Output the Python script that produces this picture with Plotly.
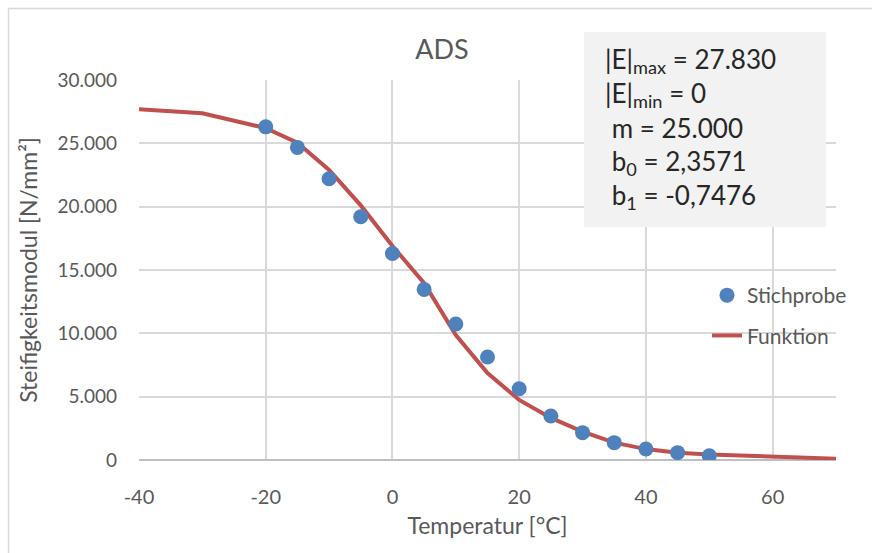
import plotly.graph_objects as go

# Stichprobe (measured stiffness modulus)
temp_sample = [-20, -15, -10, -5, 0, 5, 10, 15, 20, 25, 30, 35, 40, 45, 50]
e_sample = [26300, 24680, 22200, 19200, 16300, 13470, 10740, 8130, 5630,
            3470, 2160, 1370, 870, 580, 340]

# Funktion (fitted master curve)
temp_fit = [-40, -30, -20, -15, -10, -5, 0, 5, 10, 15, 20, 25, 30, 35, 40, 45, 50, 60, 70]
e_fit = [27700, 27370, 26200, 25050, 22900, 20100, 16900, 13950, 9870, 6870, 4740,
         3320, 2240, 1370, 860, 580, 440, 240, 105]

x_ticks = [-40, -20, 0, 20, 40, 60]
x_tick_labels = ["-40", "-20", "0", "20", "40", "60"]

param_lines = [
    "|E|<sub>max</sub> = 27.830",
    "|E|<sub>min</sub> = 0",
    " m = 25.000",
    " b<sub>0</sub> = 2,3571",
    " b<sub>1</sub> = -0,7476",
]

FONT = "Lato"
GREY = "#595959"
W, H = 872, 553
L, R, T, B = 139, 36, 80, 93
pw, ph = W - L - R, H - T - B


def px_x(px):
    return (px - L) / pw


def px_y(py):
    return (H - B - py) / ph


fig = go.Figure()
fig.add_trace(go.Scatter(
    x=temp_fit, y=e_fit, mode="lines", name="Funktion",
    line=dict(color="#c0504d", width=4), legendrank=2, legendgroup="f",
))
fig.add_trace(go.Scatter(
    x=temp_sample, y=e_sample, mode="markers", name="Stichprobe",
    marker=dict(color="#4f81bd", size=15), legendrank=1, legendgroup="s",
))

# outer chart frame
fig.add_shape(type="path", xref="paper", yref="paper",
              path=f"M {px_x(8.5)} {px_y(600)} L {px_x(8.5)} {px_y(8.5)} L {px_x(900)} {px_y(8.5)}",
              line=dict(color="#d9d9d9", width=1.5), layer="above")

# parameter box
fig.add_shape(type="rect", xref="paper", yref="paper",
              x0=px_x(584), x1=px_x(826), y0=px_y(227), y1=px_y(32),
              fillcolor="#f2f2f2", line=dict(width=0), layer="above")
for i, txt in enumerate(param_lines):
    fig.add_annotation(
        xref="paper", yref="paper", x=px_x(603), y=px_y(60 + i * 34),
        text=txt, showarrow=False, xanchor="left", yanchor="middle",
        font=dict(family=FONT, size=26, color="#262626"),
    )

fig.update_layout(
    width=W, height=H,
    margin=dict(l=L, r=R, t=T, b=B),
    paper_bgcolor="white", plot_bgcolor="white",
    separators=",.",
    font=dict(family=FONT, color=GREY),
    title=dict(text="ADS", x=442 / W, xref="container", xanchor="center",
               y=1 - 50 / H, yref="container", yanchor="middle",
               font=dict(family=FONT, size=27, color=GREY)),
    xaxis=dict(
        range=[-40, 70], tickvals=x_ticks, ticktext=x_tick_labels,
        showgrid=True, gridcolor="#d9d9d9", gridwidth=1.5,
        zeroline=False, showline=False, ticks="", ticklabelstandoff=23,
        tickfont=dict(size=20, color=GREY),
        title=dict(text="Temperatur [°C]", font=dict(size=23, color=GREY), standoff=10),
    ),
    yaxis=dict(
        range=[0, 30000], dtick=5000, tickformat=",d",
        showgrid=True, gridcolor="#d9d9d9", gridwidth=1.5,
        zeroline=True, zerolinecolor="#bfbfbf", zerolinewidth=1.5,
        showline=False, ticks="", ticklabelstandoff=21,
        tickfont=dict(size=19, color=GREY),
        title=dict(text="Steifigkeitsmodul [N/mm²]", font=dict(size=23, color=GREY), standoff=13),
    ),
    legend=dict(
        x=px_x(707), y=px_y(275), xanchor="left", yanchor="top",
        bgcolor="rgba(0,0,0,0)", font=dict(size=21, color=GREY),
        tracegroupgap=10,
    ),
)

fig.write_html("out.html")
